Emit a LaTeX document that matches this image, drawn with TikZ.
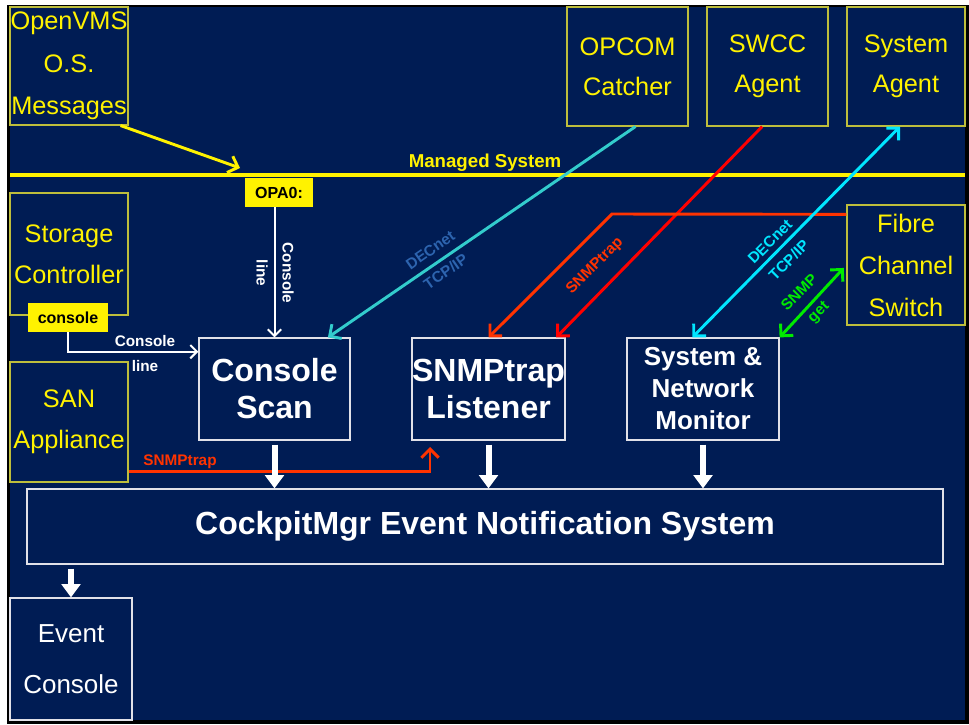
\documentclass[tikz,border=0pt]{standalone}
\usepackage{fontspec}
\setmainfont{Liberation Sans}
\usepackage{tikz}
\usetikzlibrary{arrows.meta}
\definecolor{navy}{RGB}{0,28,84}
\definecolor{boxyellow}{RGB}{190,190,60}
\definecolor{boxwhite}{RGB}{225,225,232}
\definecolor{trapred}{RGB}{255,51,0}
\definecolor{decteal}{RGB}{51,204,204}
\definecolor{decblue}{RGB}{45,100,175}
\definecolor{deccyan}{RGB}{0,230,255}
\definecolor{getgreen}{RGB}{0,235,0}

\begin{document}
\begin{tikzpicture}[x=0.75pt,y=-0.75pt,
    ybox/.style={draw=boxyellow,line width=0.8pt,text=yellow,inner sep=0pt,align=center},
    wbox/.style={draw=boxwhite,line width=0.9pt,text=white,inner sep=0pt,align=center},
    tag/.style={fill=yellow,text=black,inner sep=0pt,font=\bfseries\fontsize{12}{14}\selectfont},
    lbl/.style={inner sep=0pt,align=center,font=\bfseries\fontsize{11.5}{20}\selectfont},
    barb/.tip={Straight Barb[length=6.5pt,width=13pt]},
    link/.style={line width=2.2pt,-barb},
    wire/.style={white,line width=1.5pt,-{Straight Barb[length=5pt,width=10pt]}},
    fat/.style={white,line width=4.5pt,-{Triangle[length=10pt,width=14pt]},shorten <=3pt}]
  \useasboundingbox (0,0) rectangle (969,724);
  \fill[white] (0,0) rectangle (969,724);
  \fill[black] (7,5) rectangle (969,724);
  \fill[navy] (10,7) rectangle (965,720);

  \node[ybox,minimum width=88.5pt,minimum height=88.5pt,font=\fontsize{19}{32}\selectfont] (vms) at (69,66) {OpenVMS\\O.S.\\Messages};
  \node[ybox,minimum width=90.75pt,minimum height=89.25pt,font=\fontsize{19}{30}\selectfont] (opcom) at (627.5,66.5) {OPCOM\\Catcher};
  \node[ybox,minimum width=90.75pt,minimum height=89.25pt,font=\fontsize{19}{30}\selectfont] (swcc) at (767.5,66.5) {SWCC\\Agent};
  \node[ybox,minimum width=88.5pt,minimum height=89.25pt,font=\fontsize{19}{30}\selectfont] (sysagent) at (906,66.5) {System\\Agent};
  \node[ybox,minimum width=88.5pt,minimum height=91.5pt,font=\fontsize{19}{30.75}\selectfont] (storage) at (69,254) {Storage\\Controller};
  \node[ybox,minimum width=88.5pt,minimum height=90pt,font=\fontsize{19}{30.75}\selectfont] (san) at (69,422) {SAN\\Appliance};
  \node[ybox,minimum width=88.5pt,minimum height=90pt,font=\fontsize{19}{31.5}\selectfont] (fibre) at (906,265) {Fibre\\Channel\\Switch};
  \node[wbox,minimum width=91.5pt,minimum height=91.5pt,font=\fontsize{19.5}{38.25}\selectfont] (evcons) at (71,659) {Event\\Console};

  \node[wbox,minimum width=113.25pt,minimum height=76.5pt,font=\bfseries\fontsize{24}{27.75}\selectfont] (conscan) at (274.5,389) {Console\\Scan};
  \node[wbox,minimum width=113.25pt,minimum height=76.5pt,font=\bfseries\fontsize{24}{27.75}\selectfont] (snmplis) at (488.5,389) {SNMPtrap\\Listener};
  \node[wbox,minimum width=114pt,minimum height=76.5pt,font=\bfseries\fontsize{19.5}{24}\selectfont] (netmon) at (703,389) {System \&\\Network\\Monitor};
  \node[wbox,minimum width=687pt,minimum height=56.25pt,font=\bfseries\fontsize{24}{28}\selectfont] (cockpit) at (485,526.5) {CockpitMgr Event Notification System};

  \coordinate (mgdL) at (10,175);
  \coordinate (mgdR) at (965,175);
  \draw[yellow,line width=3pt] (mgdL) -- (mgdR);
  \node[text=yellow,inner sep=0pt,font=\bfseries\fontsize{14}{16}\selectfont] (mgd) at (485,163) {Managed System};
  \node[tag,minimum width=51pt,minimum height=21.75pt] (opa) at (279,192.5) {OPA0:};
  \node[tag,minimum width=60pt,minimum height=21.75pt] (consolebox) at (68,317.5) {console};

  \coordinate (mgdtip) at (240,168);
  \coordinate (bend) at (612,214);
  \coordinate (trapin) at (430,447);

  \draw[link,yellow] ([xshift=-6pt]vms.south east) -- (mgdtip);
  \draw[wire] (conscan.north |- opa.south) -- (conscan.north);
  \node[lbl,text=white,rotate=-90,font=\bfseries\fontsize{11.5}{19.5}\selectfont] (oplbl) at (275,273) {Console\\line};
  \draw[wire] (consolebox.south) |- ([yshift=28pt]conscan.west);
  \node[lbl,text=white,font=\bfseries\fontsize{11.5}{18.75}\selectfont] (cllbl) at (145,354) {Console\\line};

  \draw[link,decteal] ([xshift=6pt]opcom.south) -- ([xshift=-17pt]conscan.north east);
  \node[lbl,text=decblue,rotate=35] (teallbl) at (438,261) {DECnet\\TCP/IP};
  \draw[link,red] ([xshift=-4pt]swcc.south) -- ([xshift=-7pt]snmplis.north east);
  \draw[link,trapred] ([yshift=38pt]fibre.west) -- (bend) -- (snmplis.north);
  \node[lbl,text=trapred,rotate=45] (fclbl) at (595,266) {SNMPtrap};
  \draw[link,deccyan,barb-barb] ([xshift=-4.5pt]sysagent.south) -- ([xshift=-8pt]netmon.north);
  \node[lbl,text=deccyan,rotate=45] (cyanlbl) at (779.5,251) {DECnet\\TCP/IP};
  \draw[link,getgreen,barb-barb,shorten <=3pt] (fibre.west) -- (netmon.north east);
  \node[lbl,text=getgreen,rotate=45] (getlbl) at (809.5,303) {SNMP\\get};
  \draw[link,trapred] ([yshift=-37pt]san.east) -| (trapin);
  \node[lbl,text=trapred] (sanlbl) at (180,462) {SNMPtrap};

  \draw[fat] (conscan.south) -- (conscan.south |- cockpit.north);
  \draw[fat] (snmplis.south) -- (snmplis.south |- cockpit.north);
  \draw[fat] (netmon.south) -- (netmon.south |- cockpit.north);
  \draw[fat] (evcons.north |- cockpit.south) -- (evcons.north);
\end{tikzpicture}
\end{document}
